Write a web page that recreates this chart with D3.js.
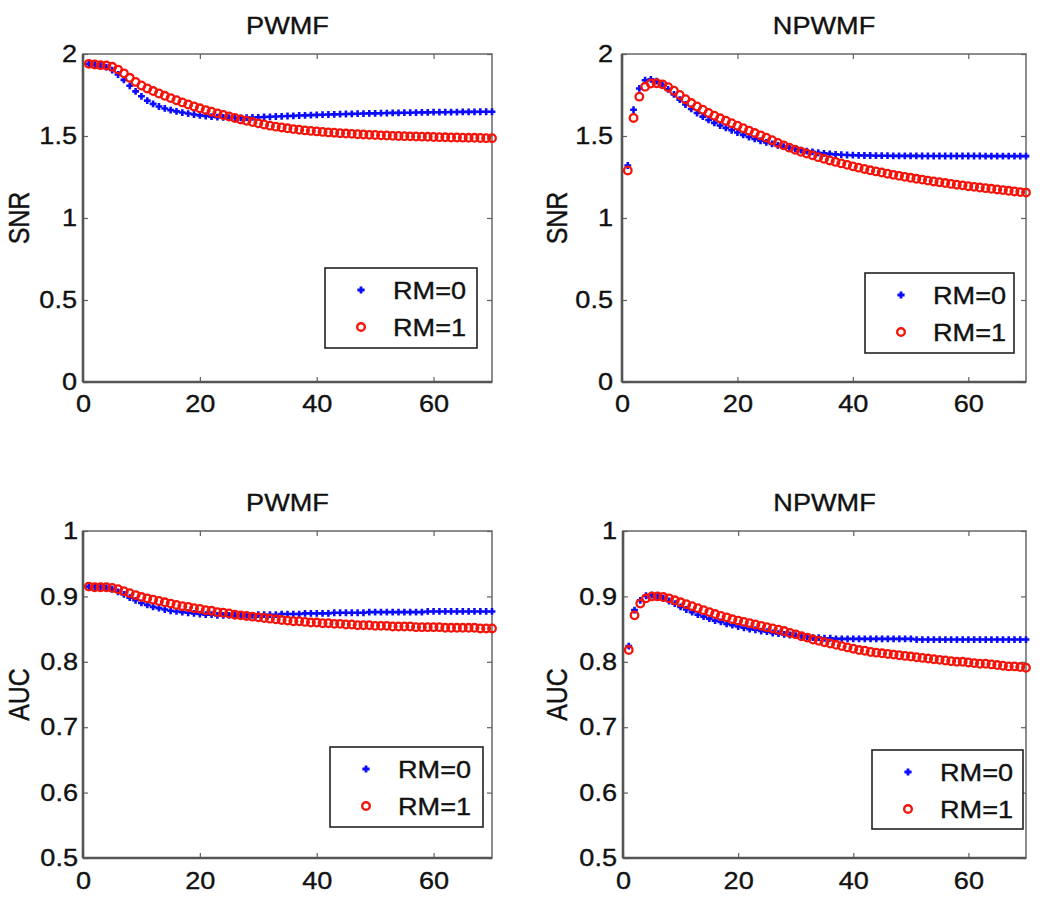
<!DOCTYPE html>
<html>
<head>
<meta charset="utf-8">
<script src="https://cdn.jsdelivr.net/npm/d3@7/dist/d3.min.js"></script>
<style>
  html, body { margin: 0; padding: 0; background: #fff; }
  svg { display: block; }
  text { font-family: "Liberation Sans", Arial, Helvetica, sans-serif; fill: #111; stroke: #111; stroke-width: 0.35px; }
</style>
</head>
<body>
<svg id="chart" width="1050" height="897"></svg>
<script>
// ---------------- DATA ----------------
const xIndex = d3.range(1, 71); // iteration index 1..70

const seriesNames = ["RM=0", "RM=1"];
const panelTitles = ["PWMF", "NPWMF", "PWMF", "NPWMF"];
const yLabels = ["SNR", "SNR", "AUC", "AUC"];
const xTickValues = [0, 20, 40, 60];
const xTickLabels = ["0", "20", "40", "60"];
const snrTickValues = [0, 0.5, 1, 1.5, 2];
const snrTickLabels = ["0", "0.5", "1", "1.5", "2"];
const aucTickValues = [0.5, 0.6, 0.7, 0.8, 0.9, 1];
const aucTickLabels = ["0.5", "0.6", "0.7", "0.8", "0.9", "1"];

const snrPwmfRM0 = [
  1.940, 1.936, 1.930, 1.920, 1.902, 1.875, 1.842, 1.806, 1.772, 1.742,
  1.716, 1.696, 1.680, 1.668, 1.658, 1.650, 1.643, 1.637, 1.631, 1.626,
  1.622, 1.618, 1.615, 1.613, 1.612, 1.611, 1.611, 1.612, 1.613, 1.614,
  1.616, 1.617, 1.619, 1.620, 1.622, 1.623, 1.625, 1.626, 1.627, 1.629,
  1.630, 1.631, 1.632, 1.633, 1.634, 1.635, 1.636, 1.637, 1.638, 1.638,
  1.639, 1.640, 1.641, 1.641, 1.642, 1.642, 1.643, 1.644, 1.644, 1.645,
  1.645, 1.645, 1.646, 1.646, 1.647, 1.647, 1.647, 1.648, 1.648, 1.648];
const snrPwmfRM1 = [
  1.940, 1.936, 1.932, 1.930, 1.922, 1.905, 1.882, 1.855, 1.830, 1.808,
  1.790, 1.774, 1.759, 1.745, 1.731, 1.718, 1.705, 1.692, 1.680, 1.669,
  1.658, 1.648, 1.638, 1.628, 1.619, 1.610, 1.601, 1.593, 1.585, 1.577,
  1.570, 1.563, 1.557, 1.552, 1.547, 1.542, 1.538, 1.534, 1.531, 1.528,
  1.525, 1.522, 1.520, 1.517, 1.515, 1.513, 1.511, 1.509, 1.507, 1.506,
  1.504, 1.503, 1.501, 1.500, 1.499, 1.498, 1.497, 1.496, 1.495, 1.494,
  1.493, 1.492, 1.491, 1.491, 1.490, 1.489, 1.489, 1.488, 1.487, 1.487];
const snrNpwmfRM0 = [
  1.320, 1.660, 1.790, 1.840, 1.845, 1.835, 1.812, 1.784, 1.754, 1.722,
  1.692, 1.665, 1.640, 1.618, 1.598, 1.580, 1.564, 1.549, 1.535, 1.521,
  1.507, 1.494, 1.482, 1.471, 1.461, 1.452, 1.443, 1.435, 1.428, 1.421,
  1.414, 1.408, 1.403, 1.398, 1.394, 1.391, 1.388, 1.386, 1.384, 1.383,
  1.382, 1.381, 1.381, 1.380, 1.380, 1.380, 1.379, 1.379, 1.379, 1.379,
  1.379, 1.378, 1.378, 1.378, 1.378, 1.378, 1.378, 1.378, 1.378, 1.378,
  1.378, 1.378, 1.377, 1.377, 1.377, 1.377, 1.377, 1.377, 1.377, 1.377];
const snrNpwmfRM1 = [
  1.290, 1.610, 1.740, 1.800, 1.820, 1.822, 1.815, 1.798, 1.776, 1.750,
  1.724, 1.701, 1.680, 1.660, 1.641, 1.624, 1.608, 1.593, 1.578, 1.563,
  1.548, 1.533, 1.518, 1.504, 1.490, 1.474, 1.458, 1.443, 1.429, 1.416,
  1.404, 1.393, 1.382, 1.371, 1.361, 1.351, 1.342, 1.333, 1.324, 1.315,
  1.307, 1.299, 1.291, 1.284, 1.277, 1.270, 1.263, 1.257, 1.251, 1.245,
  1.239, 1.234, 1.228, 1.223, 1.218, 1.213, 1.208, 1.203, 1.199, 1.194,
  1.190, 1.186, 1.182, 1.178, 1.174, 1.170, 1.166, 1.162, 1.158, 1.155];
const aucPwmfRM0 = [
  0.915, 0.915, 0.914, 0.913, 0.911, 0.907, 0.903, 0.898, 0.894, 0.890,
  0.887, 0.884, 0.882, 0.880, 0.878, 0.877, 0.876, 0.875, 0.874, 0.873,
  0.872, 0.872, 0.871, 0.871, 0.871, 0.871, 0.871, 0.871, 0.871, 0.872,
  0.872, 0.872, 0.872, 0.873, 0.873, 0.873, 0.873, 0.874, 0.874, 0.874,
  0.874, 0.874, 0.875, 0.875, 0.875, 0.875, 0.875, 0.875, 0.876, 0.876,
  0.876, 0.876, 0.876, 0.876, 0.876, 0.876, 0.876, 0.876, 0.877, 0.877,
  0.877, 0.877, 0.877, 0.877, 0.877, 0.877, 0.877, 0.877, 0.877, 0.877];
const aucPwmfRM1 = [
  0.915, 0.914, 0.914, 0.914, 0.913, 0.911, 0.908, 0.905, 0.902, 0.899,
  0.897, 0.895, 0.893, 0.891, 0.889, 0.887, 0.885, 0.884, 0.882, 0.881,
  0.879, 0.878, 0.876, 0.875, 0.874, 0.872, 0.871, 0.870, 0.869, 0.868,
  0.867, 0.866, 0.865, 0.864, 0.863, 0.862, 0.862, 0.861, 0.860, 0.860,
  0.859, 0.859, 0.858, 0.858, 0.857, 0.857, 0.856, 0.856, 0.856, 0.855,
  0.855, 0.855, 0.854, 0.854, 0.854, 0.854, 0.853, 0.853, 0.853, 0.853,
  0.853, 0.852, 0.852, 0.852, 0.852, 0.852, 0.852, 0.851, 0.851, 0.851];
const aucNpwmfRM0 = [
  0.824, 0.879, 0.894, 0.901, 0.902, 0.900, 0.897, 0.893, 0.889, 0.884,
  0.880, 0.876, 0.872, 0.869, 0.866, 0.863, 0.861, 0.858, 0.856, 0.854,
  0.852, 0.850, 0.849, 0.847, 0.846, 0.844, 0.843, 0.842, 0.841, 0.840,
  0.839, 0.838, 0.837, 0.837, 0.836, 0.836, 0.835, 0.835, 0.835, 0.835,
  0.835, 0.835, 0.835, 0.835, 0.835, 0.835, 0.835, 0.835, 0.835, 0.835,
  0.834, 0.834, 0.834, 0.834, 0.834, 0.834, 0.834, 0.834, 0.834, 0.834,
  0.834, 0.834, 0.834, 0.834, 0.834, 0.834, 0.834, 0.834, 0.834, 0.834];
const aucNpwmfRM1 = [
  0.818, 0.871, 0.889, 0.897, 0.900, 0.900, 0.899, 0.897, 0.894, 0.891,
  0.888, 0.885, 0.882, 0.879, 0.876, 0.873, 0.870, 0.868, 0.865, 0.863,
  0.861, 0.859, 0.857, 0.855, 0.853, 0.851, 0.849, 0.847, 0.844, 0.842,
  0.839, 0.837, 0.834, 0.832, 0.830, 0.828, 0.826, 0.824, 0.822, 0.820,
  0.818, 0.817, 0.815, 0.814, 0.813, 0.812, 0.811, 0.810, 0.809, 0.808,
  0.807, 0.806, 0.805, 0.804, 0.803, 0.802, 0.801, 0.800, 0.800, 0.799,
  0.798, 0.797, 0.797, 0.796, 0.795, 0.794, 0.793, 0.793, 0.792, 0.791];

// ---------------- LAYOUT ----------------
const panels = [
  { title: panelTitles[0], ylabel: yLabels[0], rm0: snrPwmfRM0, rm1: snrPwmfRM1,
    yDomain: [0, 2], yTicks: snrTickValues, yTickLabels: snrTickLabels,
    box: { l: 83, r: 492, t: 54, b: 382 }, yLabelX: 18, yTickPad: 6,
    legend: { x: 325, y: 268, w: 152, h: 80 } },
  { title: panelTitles[1], ylabel: yLabels[1], rm0: snrNpwmfRM0, rm1: snrNpwmfRM1,
    yDomain: [0, 2], yTicks: snrTickValues, yTickLabels: snrTickLabels,
    box: { l: 622, r: 1026, t: 54, b: 382 }, yLabelX: 556, yTickPad: 9,
    legend: { x: 865, y: 273, w: 149, h: 80 } },
  { title: panelTitles[2], ylabel: yLabels[2], rm0: aucPwmfRM0, rm1: aucPwmfRM1,
    yDomain: [0.5, 1], yTicks: aucTickValues, yTickLabels: aucTickLabels,
    box: { l: 83, r: 492, t: 531, b: 858 }, yLabelX: 18, yTickPad: 5,
    legend: { x: 330, y: 747, w: 153, h: 80 } },
  { title: panelTitles[3], ylabel: yLabels[3], rm0: aucNpwmfRM0, rm1: aucNpwmfRM1,
    yDomain: [0.5, 1], yTicks: aucTickValues, yTickLabels: aucTickLabels,
    box: { l: 623, r: 1026, t: 531, b: 858 }, yLabelX: 556, yTickPad: 6,
    legend: { x: 872, y: 750, w: 151, h: 79 } }
];

const FONT = 24;
const STRETCH = 1.13;
const BLUE = "#0a0aff";
const RED = "#f5140a";
const plusPath = (s) => `M${-s},0H${s}M0,${-s}V${s}`;

const svg = d3.select("#chart");

panels.forEach((p) => {
  const x = d3.scaleLinear().domain([0, 70]).range([p.box.l, p.box.r]);
  const y = d3.scaleLinear().domain(p.yDomain).range([p.box.b, p.box.t]);
  const g = svg.append("g");

  // Frame
  g.append("rect")
    .attr("x", p.box.l).attr("y", p.box.t)
    .attr("width", p.box.r - p.box.l).attr("height", p.box.b - p.box.t)
    .attr("fill", "#fff").attr("stroke", "#707070").attr("stroke-width", 1.6);

  // Axes (ticks pointing inward, MATLAB style)
  const xb = g.append("g").attr("transform", `translate(0,${p.box.b})`)
    .call(d3.axisBottom(x).tickValues(xTickValues)
      .tickFormat((d, i) => xTickLabels[i]).tickSizeInner(-5).tickSizeOuter(0).tickPadding(p.box.t > 300 ? 14 : 13));
  const xt = g.append("g").attr("transform", `translate(0,${p.box.t})`)
    .call(d3.axisTop(x).tickValues(xTickValues).tickFormat("").tickSizeInner(-5).tickSizeOuter(0));
  const yl = g.append("g").attr("transform", `translate(${p.box.l},0)`)
    .call(d3.axisLeft(y).tickValues(p.yTicks)
      .tickFormat((d, i) => p.yTickLabels[i]).tickSizeInner(-5).tickSizeOuter(0).tickPadding(p.yTickPad));
  const yr = g.append("g").attr("transform", `translate(${p.box.r},0)`)
    .call(d3.axisRight(y).tickValues(p.yTicks).tickFormat("").tickSizeInner(-5).tickSizeOuter(0));

  [xb, xt, yl, yr].forEach((a) => {
    a.select(".domain").remove();
    a.selectAll(".tick line").attr("stroke", "#606060").attr("stroke-width", 1.2);
    a.selectAll(".tick text")
      .attr("font-size", FONT)
      .attr("font-family", '"Liberation Sans", Arial, sans-serif')
      .attr("fill", "#111");
  });
  xb.selectAll(".tick text").attr("transform", `scale(${STRETCH},1)`);
  yl.selectAll(".tick text").attr("transform", `scale(${STRETCH},1)`)
    .attr("x", -p.yTickPad / STRETCH);

  // Thicker left & bottom axis lines
  g.append("line").attr("x1", p.box.l).attr("x2", p.box.l).attr("y1", p.box.t).attr("y2", p.box.b)
    .attr("stroke", "#555").attr("stroke-width", 2.6);
  g.append("line").attr("x1", p.box.l).attr("x2", p.box.r).attr("y1", p.box.b).attr("y2", p.box.b)
    .attr("stroke", "#555").attr("stroke-width", 2.6);

  // Title
  g.append("text")
    .attr("transform", `translate(${(p.box.l + p.box.r) / 2},${p.box.t - 20}) scale(${STRETCH},1)`)
    .attr("text-anchor", "middle").attr("font-size", FONT).text(p.title);

  // Y label
  g.append("text")
    .attr("transform", `translate(${p.yLabelX},${(p.box.t + p.box.b) / 2}) scale(${STRETCH + 0.05},1) rotate(-90)`)
    .attr("text-anchor", "middle").attr("dy", "0.36em").attr("font-size", FONT + 1).text(p.ylabel);

  // Data: RM=0 blue plus markers, then RM=1 red circles on top
  const pts0 = xIndex.map((xi, i) => ({ x: xi, v: p.rm0[i] }));
  const pts1 = xIndex.map((xi, i) => ({ x: xi, v: p.rm1[i] }));

  g.append("g").selectAll("path").data(pts0).join("path")
    .attr("transform", (d) => `translate(${x(d.x)},${y(d.v)})`)
    .attr("d", plusPath(3.4))
    .attr("stroke", BLUE).attr("stroke-width", 2.6).attr("fill", "none");

  g.append("g").selectAll("circle").data(pts1).join("circle")
    .attr("cx", (d) => x(d.x)).attr("cy", (d) => y(d.v)).attr("r", 3.8)
    .attr("stroke", RED).attr("stroke-width", 2.3).attr("fill", "none");

  // Legend
  const L = p.legend;
  const lg = g.append("g").attr("transform", `translate(${L.x},${L.y})`);
  lg.append("rect").attr("width", L.w).attr("height", L.h)
    .attr("fill", "#fff").attr("stroke", "#222").attr("stroke-width", 1.6);
  const rows = [22, 59];
  lg.append("path").attr("transform", `translate(36,${rows[0]})`).attr("d", plusPath(3.6))
    .attr("stroke", BLUE).attr("stroke-width", 2.8).attr("fill", "none");
  lg.append("circle").attr("cx", 36).attr("cy", rows[1]).attr("r", 3.8)
    .attr("stroke", RED).attr("stroke-width", 2.4).attr("fill", "none");
  seriesNames.forEach((name, i) => {
    lg.append("text")
      .attr("transform", `translate(68,${rows[i]}) scale(${STRETCH},1)`)
      .attr("dy", "0.36em").attr("font-size", FONT).text(name);
  });
});
</script>
</body>
</html>
